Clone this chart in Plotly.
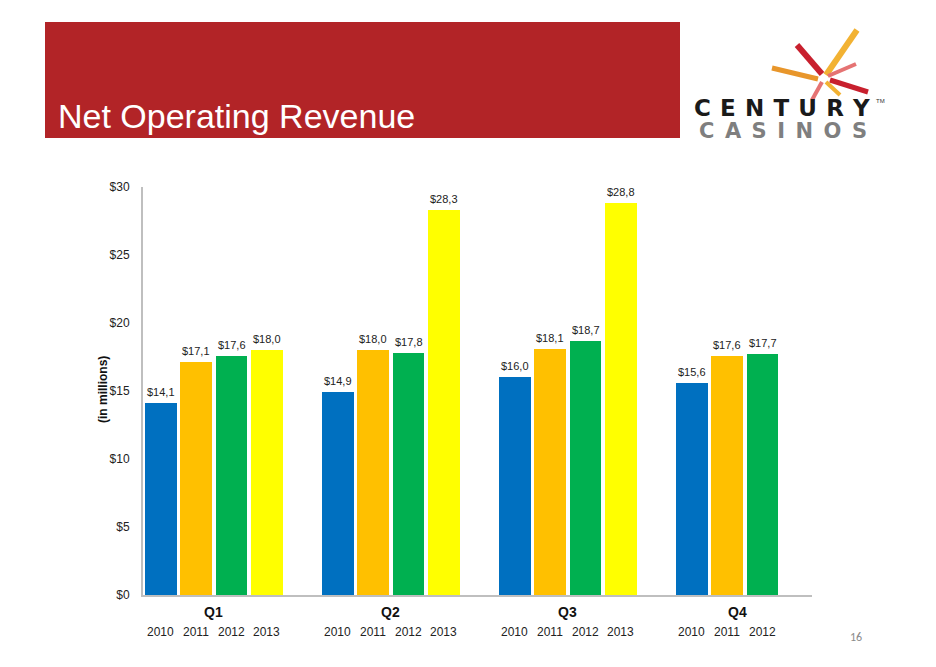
import plotly.graph_objects as go

quarters = ["Q1", "Q2", "Q3", "Q4"]
years = ["2010", "2011", "2012", "2013"]
rev_2010 = [14.1, 14.9, 16.0, 15.6]
rev_2011 = [17.1, 18.0, 18.1, 17.6]
rev_2012 = [17.6, 17.8, 18.7, 17.7]
rev_2013 = [18.0, 28.3, 28.8, None]
y_ticks = [0, 5, 10, 15, 20, 25, 30]

series = [rev_2010, rev_2011, rev_2012, rev_2013]
colors = ["#0070C0", "#FFC000", "#00B050", "#FFFF00"]

# plot area in pixels
L, R, T, B = 143, 812, 187, 595
W, H = 936, 667
def px(x):
    return (x - L) / (R - L)
def py(y):
    return (B - y) / (B - T)

fig = go.Figure()
ann = []
for si, (vals, col) in enumerate(zip(series, colors)):
    xs, ys = [], []
    for qi, v in enumerate(vals):
        if v is None:
            continue
        x = qi * 5 + si + 0.5
        xs.append(x)
        ys.append(v)
        t = "$" + f"{v:.1f}".replace(".", ",")
        ann.append(dict(x=x, y=v, xref="x", yref="y", text=t, showarrow=False,
                        xanchor="center", yanchor="bottom", yshift=3,
                        font=dict(size=11, color="#222")))
        ann.append(dict(x=x, y=py(632), xref="x", yref="paper", text=years[si],
                        showarrow=False, xanchor="center", yanchor="middle",
                        font=dict(size=12, color="#222")))
    fig.add_trace(go.Bar(x=xs, y=ys, width=0.9, marker=dict(color=col, line=dict(width=0)),
                         name=years[si], showlegend=False, hoverinfo="x+y"))

for qi, q in enumerate(quarters):
    nb = sum(1 for s in series if s[qi] is not None)
    xc = qi * 5 + (2.0 if nb == 4 else 1.8)
    ann.append(dict(x=xc, y=py(612), xref="x", yref="paper", text="<b>" + q + "</b>",
                    showarrow=False, xanchor="center", yanchor="middle",
                    font=dict(size=14, color="#111")))

# y-axis title
ann.append(dict(x=px(103), y=py(390), xref="paper", yref="paper", text="<b>(in millions)</b>",
                textangle=-90, showarrow=False, xanchor="center", yanchor="middle",
                font=dict(size=12, color="#111")))
# title
ann.append(dict(x=px(56), y=py(116), xref="paper", yref="paper", text="Net Operating Revenue",
                showarrow=False, xanchor="left", yanchor="middle",
                font=dict(size=34, color="white", family="Arial")))
# page number
ann.append(dict(x=px(856), y=py(637), xref="paper", yref="paper", text="16",
                showarrow=False, xanchor="center", yanchor="middle",
                font=dict(size=12, color="#8c8c8c", family="Calibri, Carlito, Arial")))
# logo text
ann.append(dict(x=px(782), y=py(108), xref="paper", yref="paper",
                text="<b>" + "\u2009\u2009".join("CENTURY") + "</b>",
                showarrow=False, xanchor="center", yanchor="middle",
                font=dict(size=23, color="#1a1a1a", family="DejaVu Sans")))
ann.append(dict(x=px(783), y=py(131), xref="paper", yref="paper",
                text="<b>" + "\u2009\u2009\u200a".join("CASINOS") + "</b>",
                showarrow=False, xanchor="center", yanchor="middle",
                font=dict(size=21, color="#7f7f7f", family="DejaVu Sans")))
ann.append(dict(x=px(880), y=py(101), xref="paper", yref="paper", text="TM",
                showarrow=False, xanchor="center", yanchor="middle",
                font=dict(size=6, color="#333")))

shapes = [dict(type="rect", xref="paper", yref="paper", x0=px(45), x1=px(680), y0=py(22), y1=py(138),
               fillcolor="#B22427", line=dict(width=0), layer="below")]
# logo starburst strokes
strokes = [((826, 75), (857, 30), "#F2B233", 6),
           ((822, 74), (797, 45), "#C8202E", 6),
           ((818, 79), (772, 68), "#E8962B", 5),
           ((830, 80), (868, 92), "#C8202E", 5),
           ((828, 76), (856, 64), "#E57373", 4),
           ((822, 82), (812, 100), "#E57373", 4),
           ((826, 82), (840, 95), "#F2B233", 4)]
for (x0, y0), (x1, y1), c, w in strokes:
    shapes.append(dict(type="line", xref="paper", yref="paper", x0=px(x0), y0=py(y0),
                       x1=px(x1), y1=py(y1), line=dict(color=c, width=w)))

fig.update_layout(
    width=W, height=H,
    margin=dict(l=L, r=W - R, t=T, b=H - B),
    paper_bgcolor="white", plot_bgcolor="white",
    font=dict(family="Arial, Liberation Sans", color="#222"),
    bargap=0, barmode="overlay",
    annotations=ann, shapes=shapes,
    xaxis=dict(range=[0, (R - L) / 35.4], showticklabels=False, showgrid=False, zeroline=False,
               showline=True, linecolor="#BFBFBF", linewidth=2, ticks=""),
    yaxis=dict(range=[0, 30], tickvals=y_ticks, ticktext=["$" + str(v) for v in y_ticks],
               showgrid=False, zeroline=False, showline=True, linecolor="#BFBFBF", linewidth=2,
               ticks="", tickfont=dict(size=12, color="#222"), ticklabelstandoff=9),
)
fig.write_html("out.html", config={"displayModeBar": False},
               post_script="document.body.style.margin='0';document.body.style.overflow='hidden';")
